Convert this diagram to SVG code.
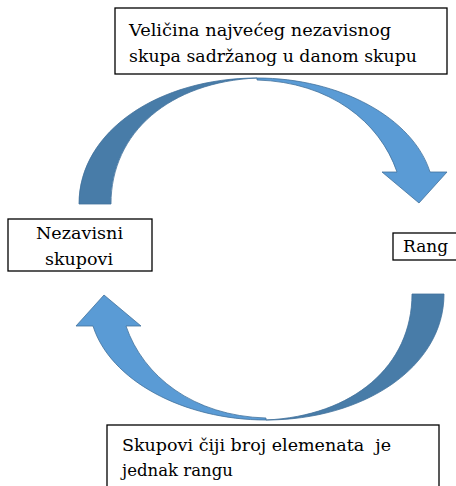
<svg xmlns="http://www.w3.org/2000/svg" width="456" height="486" viewBox="0 0 456 486">
<style>
.box{fill:#fff;stroke:#000;stroke-width:1.3}
.dark{fill:#487ca8;stroke:#41719c;stroke-width:0.8}
.light{fill:#5a9bd5;stroke:#41719c;stroke-width:0.8}
text{font-family:'DejaVu Serif','Liberation Serif',serif;font-size:17.5px;fill:#000}
</style>
<defs>
<g id="curved">
<path class="dark" d="M79,204 C79,131 159,78 257,78 C170,82 111,132 111,204 Z"/>
<path class="light" d="M257,78 C340,78 413,118 430,172 L447,172 L419,203 L382,172 L397,172 C380,122 330,82 257,80 Z"/>
</g>
</defs>
<g id="connectors">
<use href="#curved"/>
<use href="#curved" transform="rotate(180 261.5 249)"/>
</g>
<g id="node-top">
<rect class="box" x="115" y="8" width="332" height="66"/>
<text x="129" y="36" textLength="262" lengthAdjust="spacingAndGlyphs">Veličina najvećeg nezavisnog</text>
<text x="129" y="62" textLength="288" lengthAdjust="spacingAndGlyphs">skupa sadržanog u danom skupu</text>
</g>
<g id="node-left">
<rect class="box" x="8" y="219" width="144" height="52"/>
<text x="36" y="239" textLength="87" lengthAdjust="spacingAndGlyphs">Nezavisni</text>
<text x="45" y="265" textLength="68" lengthAdjust="spacingAndGlyphs">skupovi</text>
</g>
<g id="node-right">
<rect class="box" x="393" y="233" width="70" height="27"/>
<text x="403" y="252" textLength="45" lengthAdjust="spacingAndGlyphs">Rang</text>
</g>
<g id="node-bottom">
<rect class="box" x="107" y="425" width="332" height="70"/>
<text x="122" y="451" xml:space="preserve" textLength="269" lengthAdjust="spacingAndGlyphs">Skupovi čiji broj elemenata  je</text>
<text x="122" y="476" textLength="111" lengthAdjust="spacingAndGlyphs">jednak rangu</text>
</g>
</svg>
